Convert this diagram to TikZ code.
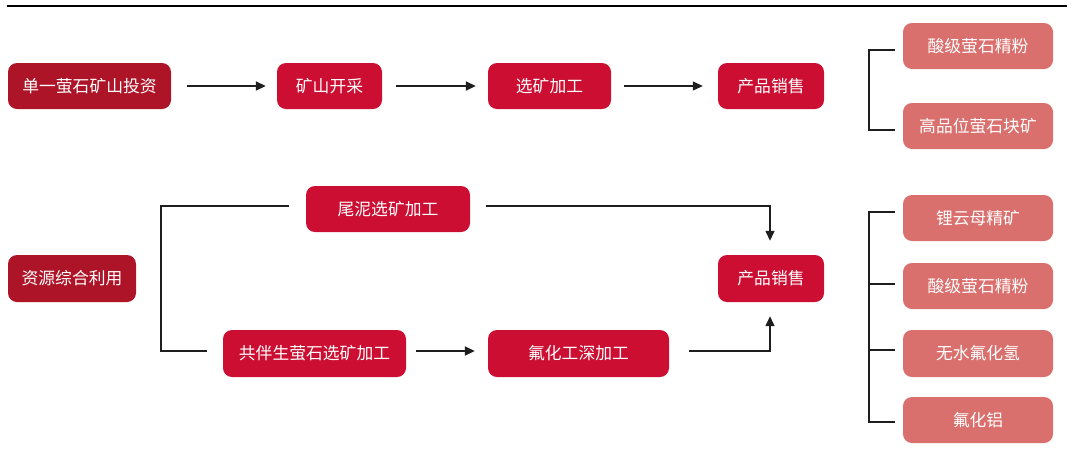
\documentclass[tikz,border=0pt]{standalone}
\usepackage{fontspec}
\newfontfamily\cjk{Noto Sans CJK SC}
\usetikzlibrary{arrows.meta,calc}
\definecolor{darkred}{RGB}{174,20,40}
\definecolor{mainred}{RGB}{203,14,50}
\definecolor{lightred}{RGB}{218,112,110}
\definecolor{linecol}{RGB}{30,30,30}
\begin{document}
\begin{tikzpicture}[x=1pt,y=-1pt,
  box/.style={rectangle,rounded corners=9pt,text=white,inner sep=0pt,
    minimum height=46pt,font=\cjk\fontsize{16.8}{16.8}\selectfont},
  dbox/.style={box,fill=darkred},
  mbox/.style={box,fill=mainred},
  lbox/.style={box,fill=lightred,minimum width=150pt,minimum height=46pt},
  conn/.style={draw=linecol,line width=1.4pt},
  arr/.style={conn,-{Triangle[length=10pt,width=9pt]}},
  brk/.style={draw=linecol,line width=1.6pt}]
\fill[white] (0,0) rectangle (1073,456);
\useasboundingbox (0,0) rectangle (1073,456);
\draw[line width=2.4pt,black] (7,5.7) coordinate (ra) -- (1067,5.7) coordinate (rb);

% row 1
\node[dbox,minimum width=163pt] (b1) at (89.5,86) {单一萤石矿山投资};
\node[mbox,minimum width=105pt] (b2) at (329.5,86) {矿山开采};
\node[mbox,minimum width=123pt] (b3) at (549.5,86) {选矿加工};
\node[mbox,minimum width=106pt] (b4) at (771,86) {产品销售};
\node[lbox] (p1) at (978,46) {酸级萤石精粉};
\node[lbox] (p2) at (978,126) {高品位萤石块矿};

\draw[arr,line width=1.8pt] ($(b1.east)+(16,0)$) -- ($(b2.west)+(-11,0)$);
\draw[arr,line width=1.8pt] ($(b2.east)+(14,0)$) -- ($(b3.west)+(-12,0)$);
\draw[arr,line width=1.1pt] ($(b3.east)+(13,0)$) -- ($(b4.west)+(-15,0)$);
\draw[brk] ($(p1.west)+(-8,4)$) -- ($(p1.west)+(-34,4)$) |- ($(p2.west)+(-8,4)$);

% row 2
\node[dbox,minimum width=128pt,minimum height=47pt] (r) at (72,278.5) {资源综合利用};
\node[mbox,minimum width=164pt] (t) at (388,209) {尾泥选矿加工};
\node[mbox,minimum width=183pt,minimum height=47pt] (c) at (314.5,353.5) {共伴生萤石选矿加工};
\node[mbox,minimum width=181pt,minimum height=47pt] (f) at (578.5,353.5) {氟化工深加工};
\node[mbox,minimum width=106pt,minimum height=47pt] (s2) at (771,278.5) {产品销售};

\draw[conn] ($(t.west)+(-17,-3)$) -| ($(c.west)+(-62,-2.5)$) -- ($(c.west)+(-16,-2.5)$);
\draw[arr,line width=1.8pt] ($(c.east)+(10,-2.5)$) -- ($(f.west)+(-13,-2.5)$);
\draw[arr] ($(t.east)+(16,-3)$) -| ($(s2.north)+(-1,-14)$);
\draw[arr] ($(f.east)+(20,-2.5)$) -| ($(s2.south)+(-1,14)$);

\node[lbox] (q1) at (978,218) {锂云母精矿};
\node[lbox] (q2) at (978,286) {酸级萤石精粉};
\node[lbox,minimum height=47pt] (q3) at (978,353.5) {无水氟化氢};
\node[lbox] (q4) at (978,420) {氟化铝};

\draw[brk] ($(q1.west)+(-8,-6)$) -- ($(q1.west)+(-34,-6)$) |- ($(q4.west)+(-8,2)$);
\draw[brk] ($(q2.west)+(-34,-2)$) -- ($(q2.west)+(-8,-2)$);
\draw[brk] ($(q3.west)+(-34,-3.5)$) -- ($(q3.west)+(-8,-3.5)$);
\end{tikzpicture}
\end{document}
